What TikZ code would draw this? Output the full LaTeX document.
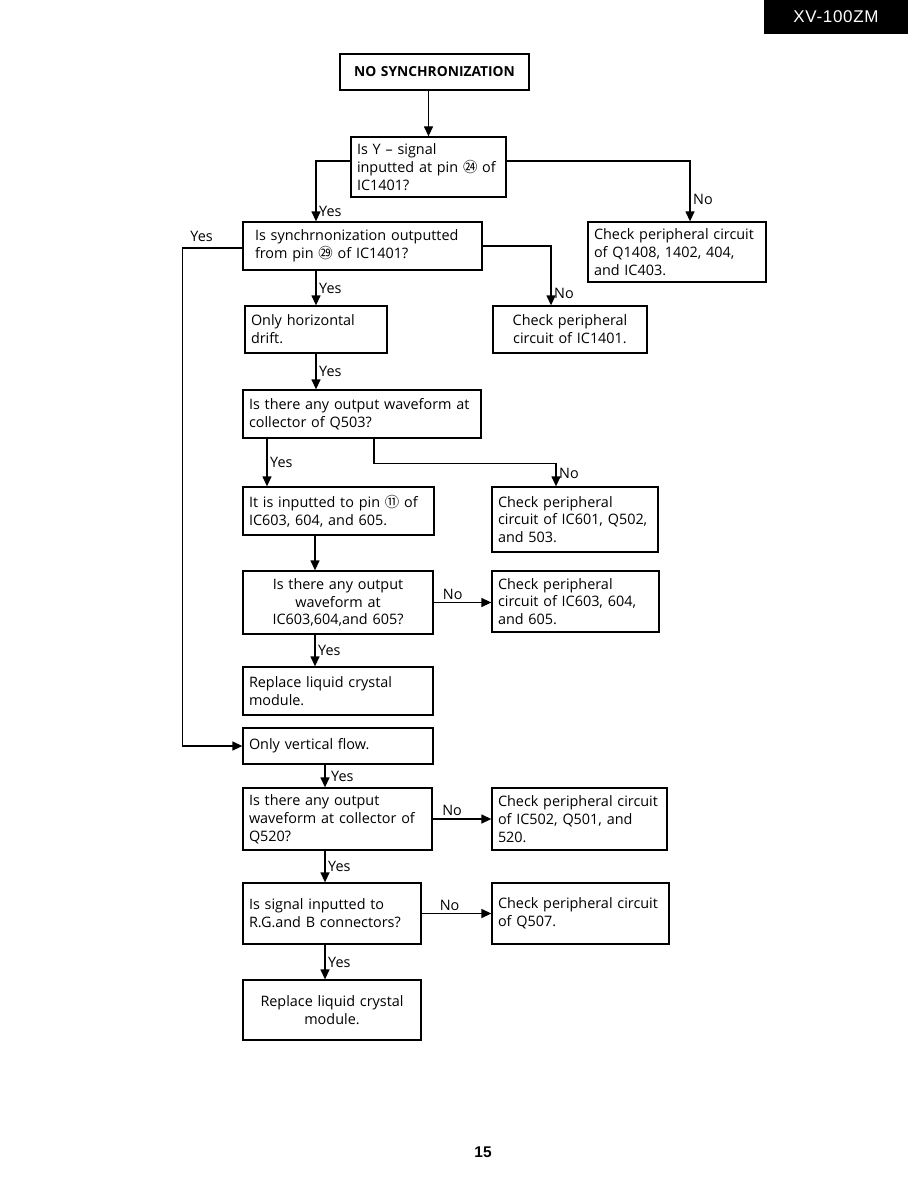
\documentclass[tikz,border=0pt]{standalone}
\usepackage{fontspec}
\setmainfont{Open Sans}
\newfontfamily\cjk{Noto Sans CJK JP}
\newfontfamily\hdfont[LetterSpace=4]{Liberation Sans}
\newfontfamily\pgfont{Liberation Sans}
\usetikzlibrary{arrows.meta, positioning, calc}

\begin{document}
\begin{tikzpicture}[x=1pt, y=-1pt,
    box/.style={draw, line width=1.3pt, inner xsep=6pt, inner ysep=2pt, align=left, font=\fontsize{14.4}{17.8}\selectfont},
    arr/.style={line width=1.3pt, -{Triangle[length=10pt, width=9pt]}},
    lbl/.style={font=\fontsize{14.4}{16}\selectfont, inner sep=2.5pt}]
\useasboundingbox (0,0) rectangle (918,1188);

% Header
\fill (764,0) rectangle (908,34);
\node[white, font=\hdfont\fontsize{17}{17}\selectfont] (model) at (836,17) {XV-100ZM};

% Boxes
\node[box, text width=177pt, minimum height=36pt, align=center, font=\bfseries\fontsize{13.8}{15}\selectfont] (nosync) at (434.5,72) {NO SYNCHRONIZATION};
\node[box, text width=143pt, minimum height=60pt] (ysig) at (428.5,167) {Is Y -- signal\\inputted at pin {\cjk ㉔} of\\IC1401?};
\node[box, text width=166pt, minimum height=60pt] (chkq) at (677,252) {Check peripheral circuit\\of Q1408, 1402, 404,\\and IC403.};
\node[box, inner xsep=12pt, text width=215pt, minimum height=48pt] (syncout) at (362.5,246) {Is synchrnonization outputted\\from pin {\cjk ㉙} of IC1401?};
\node[box, text width=142pt, minimum height=47pt, align=center] (chkic1401) at (570,329.5) {Check peripheral\\circuit of IC1401.};
\node[box, text width=130pt, minimum height=47pt] (hdrift) at (316,329.5) {Only horizontal\\drift.};
\node[box, text width=226pt, minimum height=48pt] (wfq503) at (362,414) {Is there any output waveform at\\collector of Q503?};
\node[box, text width=179pt, minimum height=48pt] (pin11) at (338.5,511) {It is inputted to pin {\cjk ⑪} of\\IC603, 604, and 605.};
\node[box, text width=154pt, minimum height=65pt] (chkic601) at (575,519.5) {Check peripheral\\circuit of IC601, Q502,\\and 503.};
\node[box, text width=178pt, minimum height=63pt, align=center] (wfic603) at (338,602.5) {Is there any output\\waveform at\\IC603,604,and 605?};
\node[box, text width=155pt, minimum height=61pt] (chkic603) at (575.5,601.5) {Check peripheral\\circuit of IC603, 604,\\and 605.};
\node[box, text width=178pt, minimum height=48pt] (lcd1) at (338,691) {Replace liquid crystal\\module.};
\node[box, text width=178pt, minimum height=36pt] (vflow) at (338,746) {Only vertical flow.};
\node[box, text width=177pt, minimum height=62pt] (wfq520) at (337.5,819) {Is there any output\\waveform at collector of\\Q520?};
\node[box, text width=163pt, minimum height=62pt] (chkic502) at (579.5,819) {Check peripheral circuit\\of IC502, Q501, and\\520.};
\node[box, text width=166pt, minimum height=61pt] (rgb) at (332,913.5) {Is signal inputted to\\R.G.and B connectors?};
\node[box, text width=165pt, minimum height=61pt] (chkq507) at (580.5,913.5) {Check peripheral circuit\\of Q507.};
\node[box, text width=166pt, minimum height=60pt, align=center] (lcd2) at (332,1010) {Replace liquid crystal\\module.};

% Connectors
\draw[arr] (ysig.north |- nosync.south) -- (ysig.north);
\draw[arr] ([yshift=6pt]ysig.west) -| ([xshift=-46.5pt]syncout.north) node[lbl, right, pos=0.92] {Yes};
\draw[arr] ([yshift=6pt]ysig.east) -| ([xshift=13pt]chkq.north) node[lbl, right, pos=0.82] {No};
\draw[arr] (syncout.east) -| ([xshift=-19pt]chkic1401.north) node[lbl, right, pos=0.9] {No};
\draw[arr] ([yshift=-2pt]syncout.west) -- ++(-60,0) node[lbl, above, pos=0.68, yshift=3pt] {Yes} |- (vflow.west);
\draw[arr] (hdrift.north |- syncout.south) -- (hdrift.north) node[lbl, right, midway] {Yes};
\draw[arr] (hdrift.south) -- (hdrift.south |- wfq503.north) node[lbl, right, midway] {Yes};
\draw[arr] ([xshift=-95pt]wfq503.south) -- ([xshift=-71.5pt]pin11.north) node[lbl, right, midway] {Yes};
\draw[arr] ([xshift=12pt]wfq503.south) -- ++(0,25) -| ([xshift=-19pt]chkic601.north) node[lbl, right, pos=0.71] {No};
\draw[arr] ([xshift=-23.5pt]pin11.south) -- ([xshift=-23pt]wfic603.north);
\draw[arr] (wfic603.east) -- (wfic603.east -| chkic603.west) node[lbl, above, pos=0.33] {No};
\draw[arr] ([xshift=-23pt]wfic603.south) -- ([xshift=-23pt]lcd1.north) node[lbl, right, midway] {Yes};
\draw[arr] ([xshift=-13pt]vflow.south) -- ([xshift=-12.5pt]wfq520.north) node[lbl, right, midway, xshift=3pt] {Yes};
\draw[arr] (wfq520.east) -- (chkic502.west) node[lbl, above, pos=0.33] {No};
\draw[arr] ([xshift=-12.5pt]wfq520.south) -- ([xshift=-7pt]rgb.north) node[lbl, right, midway] {Yes};
\draw[arr] (rgb.east) -- (chkq507.west) node[lbl, above, pos=0.4] {No};
\draw[arr] ([xshift=-7pt]rgb.south) -- ([xshift=-7pt]lcd2.north) node[lbl, right, midway] {Yes};

% Page number
\node[font=\pgfont\bfseries\fontsize{15.5}{15.5}\selectfont] (page) at (483,1152) {15};
\end{tikzpicture}
\end{document}
